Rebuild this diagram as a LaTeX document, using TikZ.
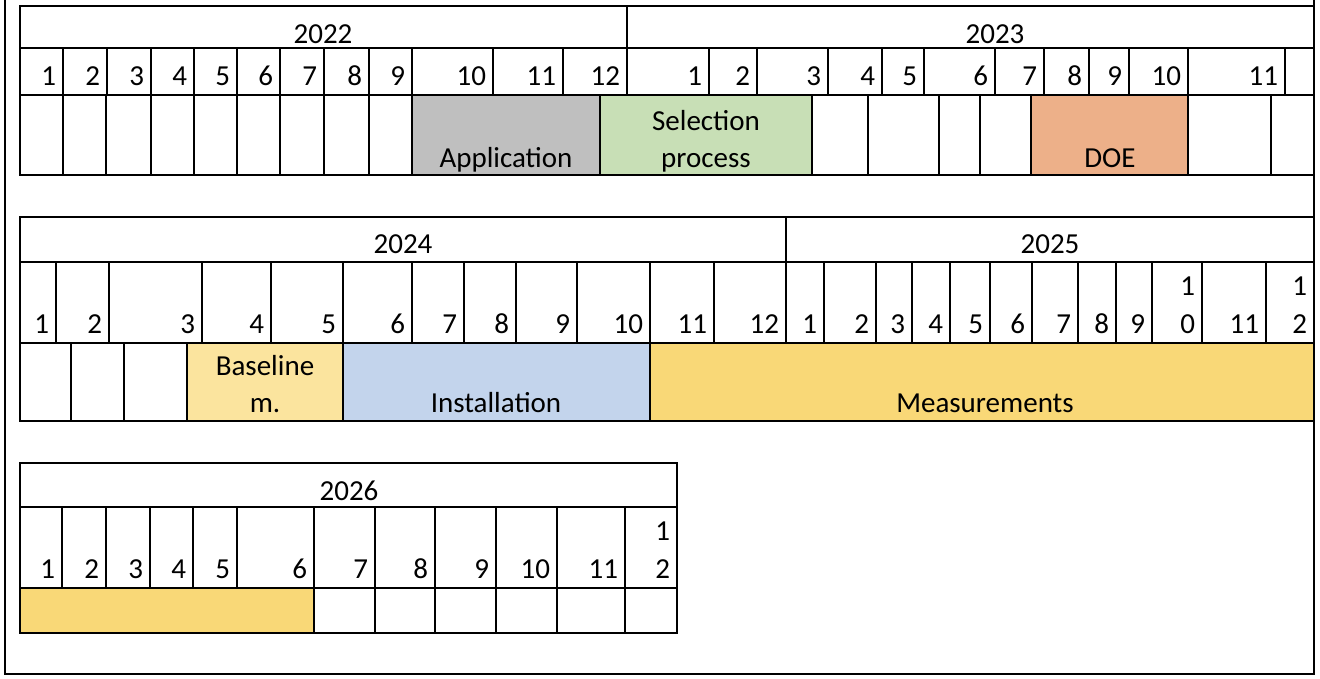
\documentclass[tikz,border=0pt]{standalone}
\usepackage{fontspec}
\setmainfont{Carlito}
\begin{document}
\begin{tikzpicture}[x=1pt,y=-1pt,line width=2pt,
  lab/.style={anchor=base east,inner sep=0pt,font=\fontsize{29}{32}\selectfont},
  ctr/.style={anchor=base,inner sep=0pt,font=\fontsize{29}{32}\selectfont}]
\definecolor{cgrey}{HTML}{BFBFBF}
\definecolor{cgreen}{HTML}{C8DFB6}
\definecolor{corange}{HTML}{EDB089}
\definecolor{clyel}{HTML}{FBE49E}
\definecolor{cblue}{HTML}{C3D4EC}
\definecolor{cyel}{HTML}{F9D877}
\useasboundingbox (0,0) rectangle (1320,678);
% outer frame
\draw (5,0) -- (5,674) -- (1314,674) -- (1314,0);
% ---------- table 1 ----------
\fill[cgrey] (412,95) rectangle (600,175);
\fill[cgreen] (600,95) rectangle (812,175);
\fill[corange] (1031,95) rectangle (1188,175);
\draw (20,6) rectangle (1314,175);
\draw (20,48) -- (1314,48) (20,95) -- (1314,95);
\draw (627,6) -- (627,48);
\node[ctr] (y22) at (323,43) {2022};
\node[ctr] (y23) at (995,43) {2023};
\foreach \x in {63,107,151,194,237,280,324,369,412,493,563,627,709,757,828,882,924,995,1044,1089,1129,1188,1285}
  \draw (\x,48) -- (\x,95);
\foreach \x/\l [count=\i] in {63/1,107/2,151/3,194/4,237/5,280/6,324/7,369/8,412/9,493/10,563/11,627/12,709/1,757/2,828/3,882/4,924/5,995/6,1044/7,1089/8,1129/9,1188/10,1285/11}
  \node[lab] (a\i) at (\x-6,85) {\l};
\foreach \x in {63,106,151,194,237,280,324,369,412,600,812,868,939,980,1031,1188,1271}
  \draw (\x,95) -- (\x,175);
\node[ctr] (app) at (506,167) {Application};
\node[ctr] (sel1) at (706,130) {Selection};
\node[ctr] (sel2) at (706,167) {process};
\node[ctr] (doe) at (1110,167) {DOE};
% ---------- table 2 ----------
\fill[clyel] (187,343) rectangle (343,421);
\fill[cblue] (343,343) rectangle (650,421);
\fill[cyel] (650,343) rectangle (1314,421);
\draw (20,217) rectangle (1314,421);
\draw (20,262) -- (1314,262) (20,343) -- (1314,343);
\draw (786,217) -- (786,262);
\node[ctr] (y24) at (403,253) {2024};
\node[ctr] (y25) at (1050,253) {2025};
\foreach \x in {56,109,202,271,343,412,464,516,577,650,714,786,824,876,912,950,990,1032,1078,1116,1152,1202,1266}
  \draw (\x,262) -- (\x,343);
\foreach \x/\l [count=\i] in {56/1,109/2,202/3,271/4,343/5,412/6,464/7,516/8,577/9,650/10,714/11,786/12,824/1,876/2,912/3,950/4,990/5,1032/6,1078/7,1116/8,1152/9,1266/11}
  \node[lab] (b\i) at (\x-6,333) {\l};
\node[lab] (b10a) at (1196,295) {1};
\node[lab] (b10b) at (1196,333) {0};
\node[lab] (b12a) at (1308,295) {1};
\node[lab] (b12b) at (1308,333) {2};
\foreach \x in {71,124,187,343,650}
  \draw (\x,343) -- (\x,421);
\node[ctr] (base1) at (265,375) {Baseline};
\node[ctr] (base2) at (265,412) {m.};
\node[ctr] (inst) at (496,412) {Installation};
\node[ctr] (meas) at (985,412) {Measurements};
% ---------- table 3 ----------
\fill[cyel] (20,588) rectangle (314,633);
\draw (20,463) rectangle (677,633);
\draw (20,507) -- (677,507) (20,588) -- (677,588);
\node[ctr] (y26) at (349,500) {2026};
\foreach \x in {62,106,150,193,237,314,375,435,496,557,625}
  \draw (\x,507) -- (\x,588);
\foreach \x/\l [count=\i] in {62/1,106/2,150/3,193/4,237/5,314/6,375/7,435/8,496/9,557/10,625/11}
  \node[lab] (c\i) at (\x-6,578) {\l};
\node[lab] (c12a) at (671,540) {1};
\node[lab] (c12b) at (671,578) {2};
\foreach \x in {314,375,435,496,557,625}
  \draw (\x,588) -- (\x,633);
\end{tikzpicture}
\end{document}
